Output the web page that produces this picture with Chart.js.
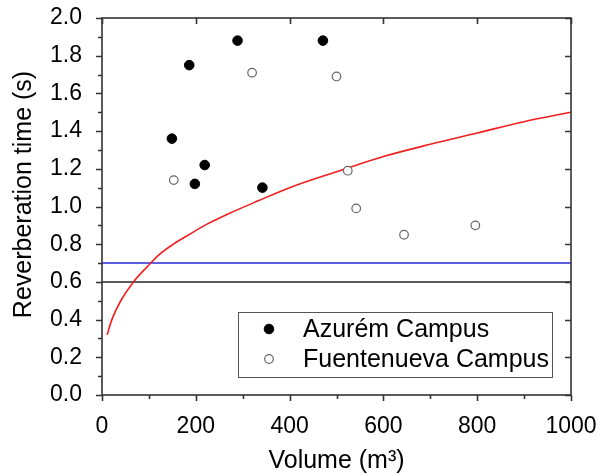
<!DOCTYPE html>
<html>
<head>
<meta charset="utf-8">
<script src="https://cdn.jsdelivr.net/npm/chart.js@4.4.0/dist/chart.umd.min.js"></script>
<style>
  html, body { margin: 0; padding: 0; background: #fff; }
</style>
</head>
<body>
<canvas id="rt-chart" width="598" height="476"></canvas>
<script>
// values
const azuremVolume = [149, 186, 198, 219, 289, 342, 471]
const azuremRT = [1.36, 1.75, 1.12, 1.22, 1.88, 1.10, 1.88]
const fuenteVolume = [153, 320, 500, 524, 542, 644, 796]
const fuenteRT = [1.14, 1.71, 1.69, 1.19, 0.99, 0.85, 0.90]

// red reference curve, read at these volumes
const curveVolume = [11, 21, 40, 67, 102, 122, 152, 185, 223, 273, 333, 400, 507, 600, 700, 800, 900, 1000]
const curveRT = [0.32, 0.40, 0.50, 0.60, 0.695, 0.745, 0.80, 0.85, 0.905, 0.965, 1.03, 1.10, 1.19, 1.265, 1.33, 1.39, 1.45, 1.50]

// horizontal limits
const limitVolume = [0, 1000]
const blueLimit = 0.7
const blackLimit = 0.6

const xMajor = [0, 200, 400, 600, 800, 1000]
const xMinor = [100, 300, 500, 700, 900]
const yMajor = [0.0, 0.2, 0.4, 0.6, 0.8, 1.0, 1.2, 1.4, 1.6, 1.8, 2.0]
const yMinor = [0.1, 0.3, 0.5, 0.7, 0.9, 1.1, 1.3, 1.5, 1.7, 1.9]

const legendLabels = ['Azurém Campus', 'Fuentenueva Campus']
const yTitle = 'Reverberation time (s)'

const FONT = 'Arial, "Liberation Sans", sans-serif'

const toXY = (xs, ys) => xs.map((x, i) => ({ x: x, y: ys[i] }))

// frame with ticks on all four sides (left/bottom outward, top/right inward)
const framePlugin = {
  id: 'frame',
  afterDraw(chart) {
    const { ctx, chartArea: a, scales } = chart
    const xs = scales.x, ys = scales.y
    ctx.save()
    ctx.strokeStyle = '#333'
    ctx.lineWidth = 1.6
    ctx.strokeRect(a.left, a.top, a.right - a.left, a.bottom - a.top)
    ctx.beginPath()
    xMajor.forEach(v => {
      const px = Math.round(xs.getPixelForValue(v)) + 0.5
      ctx.moveTo(px, a.bottom); ctx.lineTo(px, a.bottom + 6)
      ctx.moveTo(px, a.top); ctx.lineTo(px, a.top + 6)
    })
    xMinor.forEach(v => {
      const px = Math.round(xs.getPixelForValue(v)) + 0.5
      ctx.moveTo(px, a.bottom); ctx.lineTo(px, a.bottom + 4)
    })
    yMajor.forEach(v => {
      const py = Math.round(ys.getPixelForValue(v)) + 0.5
      ctx.moveTo(a.left - 6, py); ctx.lineTo(a.left, py)
      ctx.moveTo(a.right - 6, py); ctx.lineTo(a.right, py)
    })
    yMinor.forEach(v => {
      const py = Math.round(ys.getPixelForValue(v)) + 0.5
      ctx.moveTo(a.left - 4, py); ctx.lineTo(a.left, py)
    })
    ctx.stroke()

    // y axis title, a little above the centre like the original
    ctx.translate(24, (a.top + a.bottom) / 2 - 12)
    ctx.rotate(-Math.PI / 2)
    ctx.font = '25px ' + FONT
    ctx.fillStyle = '#000'
    ctx.textAlign = 'center'
    ctx.textBaseline = 'middle'
    ctx.fillText(yTitle, 0, 0)
    ctx.restore()
  }
}

// legend box inside the plot, lower right
const boxLegend = {
  id: 'boxLegend',
  afterDraw(chart) {
    const { ctx, chartArea: a } = chart
    const left = a.left + 136, top = a.bottom - 83, w = 314, h = 65
    ctx.save()
    ctx.fillStyle = '#fff'
    ctx.fillRect(left, top, w, h)
    ctx.strokeStyle = '#555'
    ctx.lineWidth = 1
    ctx.strokeRect(left + 0.5, top + 0.5, w, h)
    ctx.font = '25px ' + FONT
    ctx.textBaseline = 'middle'
    legendLabels.forEach((label, i) => {
      const ds = chart.data.datasets[i]
      const cy = top + 17 + i * 30
      ctx.beginPath()
      ctx.arc(left + 31, cy, ds.pointRadius, 0, Math.PI * 2)
      ctx.fillStyle = ds.backgroundColor
      ctx.fill()
      ctx.lineWidth = ds.borderWidth
      ctx.strokeStyle = ds.borderColor
      ctx.stroke()
      ctx.fillStyle = '#000'
      ctx.fillText(label, left + 65, cy + 1)
    })
    ctx.restore()
  }
}

const ctx = document.getElementById('rt-chart').getContext('2d')

new Chart(ctx, {
  type: 'scatter',
  data: {
    datasets: [
      {
        label: legendLabels[0],
        data: toXY(azuremVolume, azuremRT),
        backgroundColor: '#000',
        borderColor: '#000',
        borderWidth: 1,
        pointRadius: 4.8,
        order: 0,
      },
      {
        label: legendLabels[1],
        data: toXY(fuenteVolume, fuenteRT),
        backgroundColor: '#fff',
        borderColor: '#666',
        borderWidth: 1.2,
        pointRadius: 4.3,
        order: 1,
      },
      {
        label: 'curve',
        type: 'line',
        data: toXY(curveVolume, curveRT),
        borderColor: '#f01e1e',
        borderWidth: 1.6,
        pointRadius: 0,
        cubicInterpolationMode: 'monotone',
        fill: false,
        order: 2,
      },
      {
        label: 'blue',
        type: 'line',
        data: toXY(limitVolume, limitVolume.map(() => blueLimit)),
        borderColor: '#2a2ad8',
        borderWidth: 1.5,
        pointRadius: 0,
        fill: false,
        order: 3,
      },
      {
        label: 'black',
        type: 'line',
        data: toXY(limitVolume, limitVolume.map(() => blackLimit)),
        borderColor: '#222',
        borderWidth: 1.5,
        pointRadius: 0,
        fill: false,
        order: 4,
      },
    ],
  },
  options: {
    responsive: false,
    animation: false,
    layout: { padding: { top: 18, right: 27, left: 0, bottom: 0 } },
    scales: {
      x: {
        type: 'linear',
        min: 0,
        max: 1000,
        afterFit: s => { s.height = 81; s.paddingLeft = 0; s.paddingRight = 0 },
        grid: { display: false },
        border: { display: false },
        ticks: {
          stepSize: 200,
          autoSkip: false,
          maxRotation: 0,
          padding: 10,
          color: '#000',
          font: { family: FONT, size: 23 },
          callback: v => String(v),
        },
        title: {
          display: true,
          text: 'Volume (m³)',
          color: '#000',
          font: { family: FONT, size: 25 },
          padding: { top: 0, bottom: 0 },
        },
      },
      y: {
        type: 'linear',
        min: 0,
        max: 2,
        afterFit: s => { s.width = 102; s.paddingTop = 0; s.paddingBottom = 0 },
        grid: { display: false },
        border: { display: false },
        ticks: {
          stepSize: 0.2,
          autoSkip: false,
          padding: 12,
          color: '#000',
          font: { family: FONT, size: 23 },
          callback: v => Number(v).toFixed(1),
        },
        title: { display: false },
      },
    },
    plugins: {
      legend: { display: false },
      tooltip: { enabled: false },
    },
  },
  plugins: [framePlugin, boxLegend],
})
</script>
</body>
</html>
